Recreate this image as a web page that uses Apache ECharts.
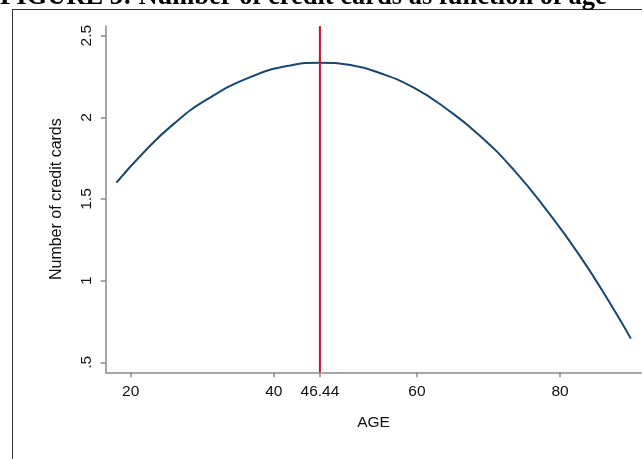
<!DOCTYPE html>
<html>
<head>
<meta charset="utf-8">
<script src="https://cdn.jsdelivr.net/npm/echarts@6/dist/echarts.min.js"></script>
<style>
html,body{margin:0;padding:0;background:#fff;}
#chart{width:642px;height:459px;}
</style>
</head>
<body>
<div id="chart"></div>
<script>
// Data
var ages = [18.0, 21.8, 26.0, 30.6, 36.7, 42.3, 46.4, 50.7, 54.9, 59.5, 64.2, 68.8, 73.5, 78.1, 82.8, 87.5, 89.9];
var cards = [1.600, 1.785, 1.960, 2.108, 2.246, 2.318, 2.335, 2.320, 2.270, 2.183, 2.050, 1.888, 1.680, 1.433, 1.150, 0.825, 0.645];
var peakAge = 46.44;
var xTicks = [20, 40, 46.44, 60, 80];
var yTicks = [0.5, 1, 1.5, 2, 2.5];
var titleText = 'FIGURE 3: Number of credit cards as function of age';
var xName = 'AGE';
var yName = 'Number of credit cards';

var xMin = 16.5, xMax = 91.36, yMin = 0.4388, yMax = 2.5594;

var curve = ages.map(function (a, i) { return [a, cards[i]]; });

var chart = echarts.init(document.getElementById('chart'), null, {renderer: 'canvas'});
var axisCol = '#8a8a8a';
var font = '"Liberation Sans", Arial, sans-serif';
chart.setOption({
  animation: false,
  backgroundColor: '#ffffff',
  grid: {left: 105.7, top: 26, width: 535.6, height: 346.3, containLabel: false, outerBoundsMode: 'none'},
  graphic: [
    {type: 'text', left: 0, top: -16.5, z: 10,
     style: {text: titleText, font: 'bold 26.5px "Liberation Serif", "Times New Roman", serif', fill: '#000'}},
    {type: 'line', shape: {x1: 12, y1: 9.5, x2: 642, y2: 9.5}, style: {stroke: '#333', lineWidth: 1}},
    {type: 'line', shape: {x1: 12.5, y1: 9, x2: 12.5, y2: 459}, style: {stroke: '#333', lineWidth: 1}}
  ],
  xAxis: {
    type: 'value', min: xMin, max: xMax,
    name: xName, nameLocation: 'middle', nameGap: 42,
    nameTextStyle: {fontFamily: font, fontSize: 15.5, color: '#111'},
    axisLine: {show: true, lineStyle: {color: axisCol, width: 1.5}},
    axisTick: {show: true, length: 5, lineStyle: {color: axisCol, width: 1.5}, customValues: xTicks},
    axisLabel: {show: true, fontFamily: font, fontSize: 15.5, color: '#111', margin: 11, customValues: xTicks,
      formatter: function (v) { return String(v); }},
    splitLine: {show: false}
  },
  yAxis: {
    type: 'value', min: yMin, max: yMax,
    name: yName, nameLocation: 'middle', nameGap: 41, nameRotate: 90,
    nameTextStyle: {fontFamily: font, fontSize: 16, color: '#111'},
    axisLine: {show: true, lineStyle: {color: axisCol, width: 1.5}},
    axisTick: {show: true, length: 5, lineStyle: {color: axisCol, width: 1.5}, customValues: yTicks},
    axisLabel: {show: true, rotate: 90, fontFamily: font, fontSize: 15.5, color: '#111', margin: 11, customValues: yTicks,
      formatter: function (v) { return v === 0.5 ? '.5' : String(v); }},
    splitLine: {show: false}
  },
  series: [
    {type: 'line', data: curve, smooth: true, symbol: 'none',
     lineStyle: {color: '#1a476f', width: 2}, z: 3},
    {type: 'line', data: [[peakAge, yMin], [peakAge, yMax]], symbol: 'none',
     lineStyle: {color: '#c8102e', width: 2}, z: 4}
  ]
});
</script>
</body>
</html>
